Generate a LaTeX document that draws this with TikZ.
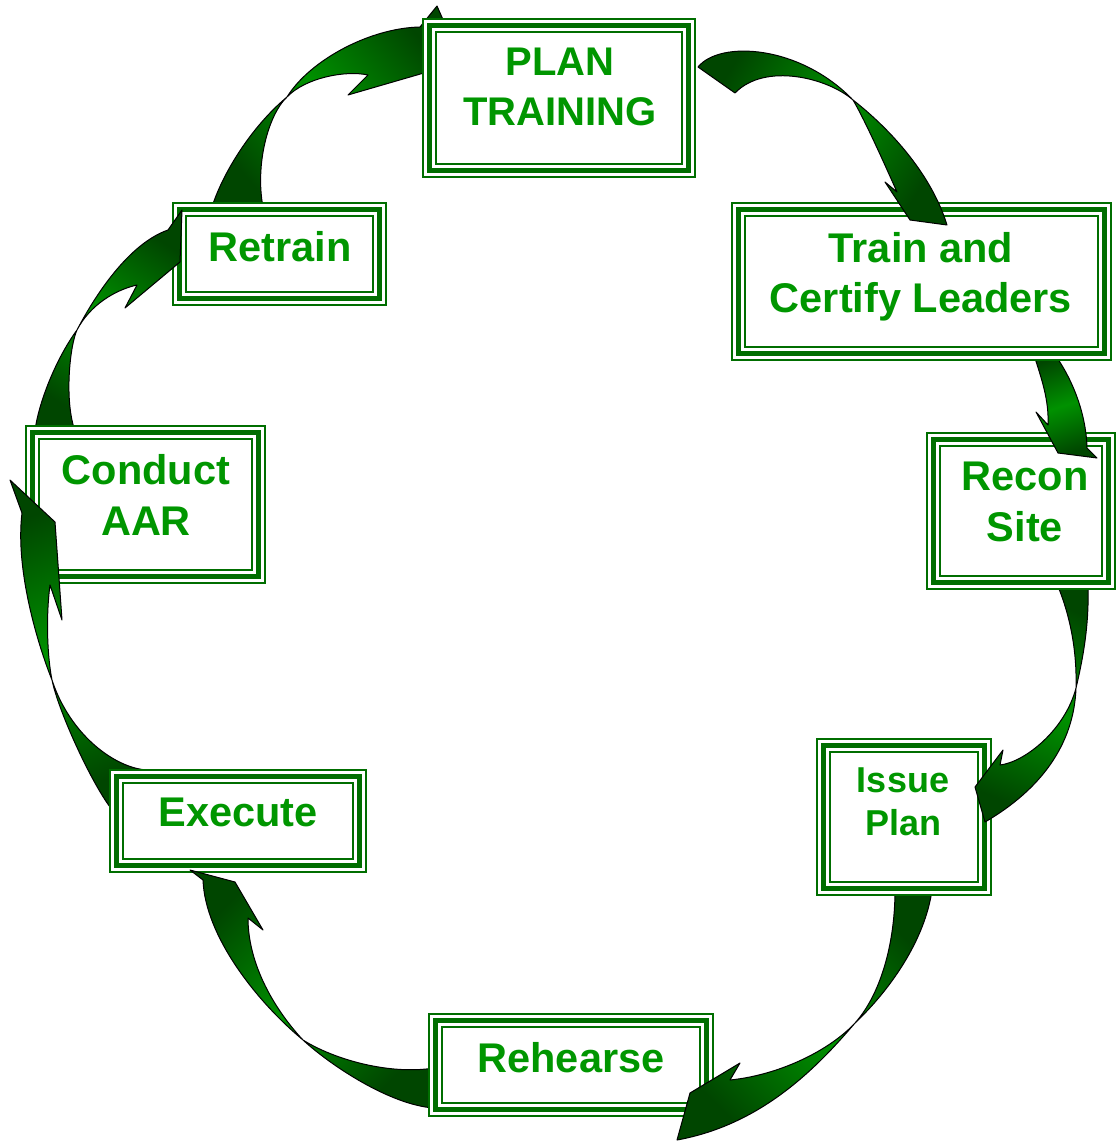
\documentclass[tikz,border=0pt]{standalone}
\usepackage{fontspec}
\setmainfont{Liberation Sans}
\definecolor{bgreen}{RGB}{0,110,0}
\definecolor{tgreen}{RGB}{0,150,0}
\definecolor{dkg}{RGB}{0,70,0}
\definecolor{ltg}{RGB}{0,145,0}
\tikzset{
  frame/.style={rectangle, draw=bgreen, line width=5pt, fill=white, inner sep=0pt, outer sep=0pt},
  thinb/.style={draw=bgreen, line width=1.7pt},
  lbl/.style={text=tgreen, font=\bfseries\fontsize{41.5}{50.5}\selectfont, align=center, inner sep=0pt},
  lblsmall/.style={text=tgreen, font=\bfseries\fontsize{36}{43}\selectfont, align=center, inner sep=0pt},
  arr/.style={draw=black, line width=1pt, line join=round, top color=dkg, bottom color=dkg, middle color=ltg},
}
\newcommand\triframe[5]{%
  \fill[white] (#2,#3) rectangle (#4,#5);
  \node[frame, minimum width={#4-#2-15}, minimum height={#5-#3-15}] (#1) at ({(#2+#4)/2},{(#3+#5)/2}) {};
  \draw[thinb] ([shift={(-6.65pt,6.65pt)}]#1.north west) rectangle ([shift={(6.65pt,-6.65pt)}]#1.south east);
  \draw[thinb] ([shift={(6.2pt,-6.2pt)}]#1.north west) rectangle ([shift={(-6.2pt,6.2pt)}]#1.south east);
}
\begin{document}
\begin{tikzpicture}[x=1pt,y=-1pt]
\useasboundingbox[fill=white] (0,0) rectangle (1116,1142);

% Retrain -> PLAN (its head runs under the PLAN box)
\draw[arr, shading angle=-49] (212,207) .. controls (222,175) and (250,128) .. (287,97) .. controls (310,60) and (370,28) .. (420,27) -- (437,6) -- (452,40) -- (448,66) -- (348,95) -- (368,75) .. controls (345,70) and (305,78) .. (287,97) .. controls (268,115) and (255,165) .. (263,207) -- cycle;

% PLAN TRAINING
\triframe{plan}{422}{18}{696}{178}
\node[lbl, font=\bfseries\fontsize{40}{50}\selectfont] (plan-t) at (560,87) {PLAN\\TRAINING};

% Retrain
\triframe{retrain}{172}{202}{387}{306}
\node[lbl] (retrain-t) at (280,246.5) {Retrain};

% Conduct -> Retrain
\draw[arr, shading angle=-33] (35,431) .. controls (38,405) and (55,360) .. (77,330) .. controls (90,305) and (125,245) .. (168,230) -- (182,210) -- (180,262) -- (125,308) -- (137,285) .. controls (115,290) and (90,305) .. (77,330) .. controls (70,345) and (64,400) .. (75,431) -- cycle;

% Conduct AAR
\triframe{conduct}{25}{425}{266}{584}
\node[lbl] (conduct-t) at (146,495) {Conduct\\AAR};

% Execute -> Conduct
\draw[arr, shading angle=21] (147,770) .. controls (115,768) and (70,735) .. (52,680) .. controls (38,645) and (15,570) .. (22,513) -- (10,480) -- (55,522) -- (62,620) -- (50,585) .. controls (46,615) and (47,655) .. (52,680) .. controls (58,710) and (90,780) .. (110,807) -- cycle;

% Execute
\triframe{execute}{109}{769}{367}{873}
\node[lbl] (execute-t) at (238,812.5) {Execute};

% Rehearse -> Execute
\draw[arr, shading angle=45] (434,1068) .. controls (390,1075) and (335,1060) .. (303,1040) .. controls (275,1010) and (248,965) .. (248,918) -- (263,930) -- (235,882) -- (190,870) -- (203,880) .. controls (205,935) and (255,1000) .. (303,1040) .. controls (330,1065) and (390,1105) .. (434,1108) -- cycle;

% Rehearse
\triframe{rehearse}{428}{1013}{714}{1117}
\node[lbl] (rehearse-t) at (571,1057.5) {Rehearse};

% Issue -> Rehearse
\draw[arr, shading angle=-45] (895,890) .. controls (895,945) and (880,995) .. (855,1023) .. controls (815,1070) and (760,1125) .. (677,1140) -- (690,1093) -- (740,1063) -- (730,1080) .. controls (780,1075) and (830,1050) .. (855,1023) .. controls (890,990) and (925,940) .. (932,890) -- cycle;

% Issue Plan
\triframe{issue}{816}{738}{992}{896}
\node[lblsmall] (issue-t) at (903,801.5) {Issue\\Plan};

% Recon -> Issue
\draw[arr, shading angle=-22] (1057,584) .. controls (1070,615) and (1077,650) .. (1076,688) .. controls (1074,745) and (1040,790) .. (985,822) -- (975,787) -- (1003,750) -- (1000,765) .. controls (1025,762) and (1065,730) .. (1076,688) .. controls (1085,650) and (1089,620) .. (1088,584) -- cycle;

% Recon Site
\triframe{recon}{926}{432}{1116}{590}
\node[lbl] (recon-t) at (1025,502) {Recon\\Site};

% Train -> Recon
\draw[arr, shading angle=18] (1033,352) .. controls (1042,380) and (1049,400) .. (1048,425) -- (1036,412) -- (1058,453) -- (1097,458) -- (1087,448) .. controls (1086,410) and (1070,375) .. (1053,352) -- cycle;

% Train and Certify Leaders
\triframe{train}{731}{202}{1112}{361}
\node[lbl] (train-t) at (921,277) {Train and\\Certify Leaders};

% PLAN -> Train
\draw[arr, shading angle=58] (698,67) .. controls (720,40) and (800,45) .. (853,100) .. controls (885,125) and (930,170) .. (947,225) -- (910,220) -- (885,182) -- (897,192) .. controls (888,172) and (866,122) .. (853,100) .. controls (828,78) and (765,62) .. (735,93) -- cycle;
\end{tikzpicture}
\end{document}
